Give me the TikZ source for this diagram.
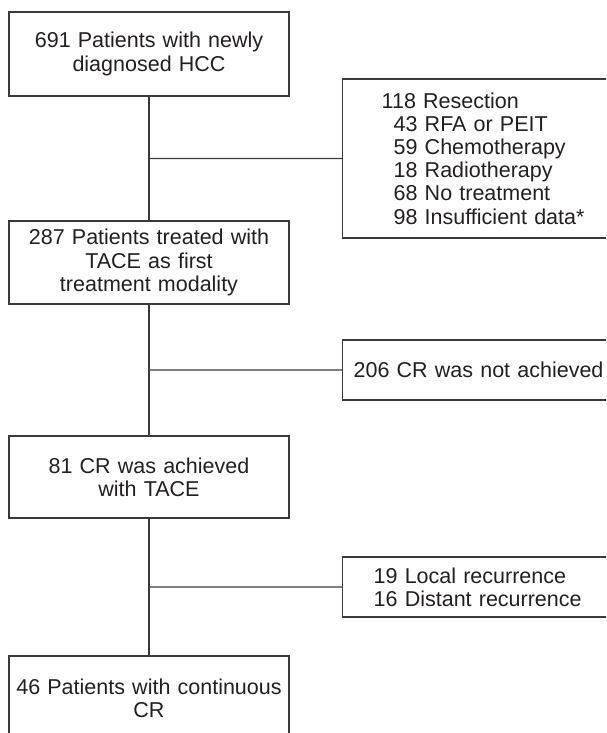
\documentclass[tikz,border=0pt]{standalone}
\usepackage{fontspec}
\setmainfont{Liberation Sans}
\usetikzlibrary{calc}
\definecolor{ink}{HTML}{231F20}
\definecolor{edge}{HTML}{3A3A3A}
\begin{document}
\begin{tikzpicture}[x=1pt,y=-1pt,
  every node/.style={font=\fontsize{21.5}{23.2}\selectfont, text=ink},
  mainbox/.style={draw=edge, line width=1.4pt, rectangle, minimum width=280pt,
     align=center, text width=270pt, inner xsep=5pt},
  sidebox/.style={draw=edge, line width=1.4pt, rectangle, align=left, anchor=west},
  link/.style={draw=edge, line width=1.4pt}]
\useasboundingbox (0,0) rectangle (606,733);
\clip (0,0) rectangle (606,733);
% main column
\node[mainbox, minimum height=84pt] (b1) at (149,54) {691 Patients with newly\\diagnosed HCC};
\node[mainbox, minimum height=83pt] (b2) at (149,262.5) {287 Patients treated with\\TACE as first\\treatment modality};
\node[mainbox, minimum height=82pt] (b3) at (149,477) {81 CR was achieved\\with TACE};
\node[mainbox, minimum height=84pt] (b4) at (149,698) {46 Patients with continuous\\CR};
% side boxes
\node[sidebox, minimum height=159pt, inner xsep=39pt, text width=250pt] (r1) at (342,158.5)
  {118 Resection\\\hphantom{0}43 RFA or PEIT\\\hphantom{0}59 Chemotherapy\\\hphantom{0}18 Radiotherapy\\\hphantom{0}68 No treatment\\\hphantom{0}98 Insufficient data*};
\node[sidebox, minimum height=60pt, inner xsep=11pt, text width=258pt] (r2) at (342,370)
  {206 CR was not achieved};
\node[sidebox, minimum height=60pt, inner xsep=31pt, text width=240pt] (r3) at (342,587)
  {19 Local recurrence\\16 Distant recurrence};
% branch points
\coordinate (m1) at ($(b1.south)!0.5!(b2.north)$);
\coordinate (m2) at ($(b2.south)!0.5!(b3.north)$);
\coordinate (m3) at ($(b3.south)!0.5!(b4.north)$);
% connectors
\draw[link] (b1.south) -- (b2.north);
\draw[link] (b2.south) -- (b3.north);
\draw[link] (b3.south) -- (b4.north);
\draw[link] (m1) -- (r1.west);
\draw[link] (m2) -- (r2.west);
\draw[link] (m3) -- (r3.west);
\end{tikzpicture}
\end{document}
